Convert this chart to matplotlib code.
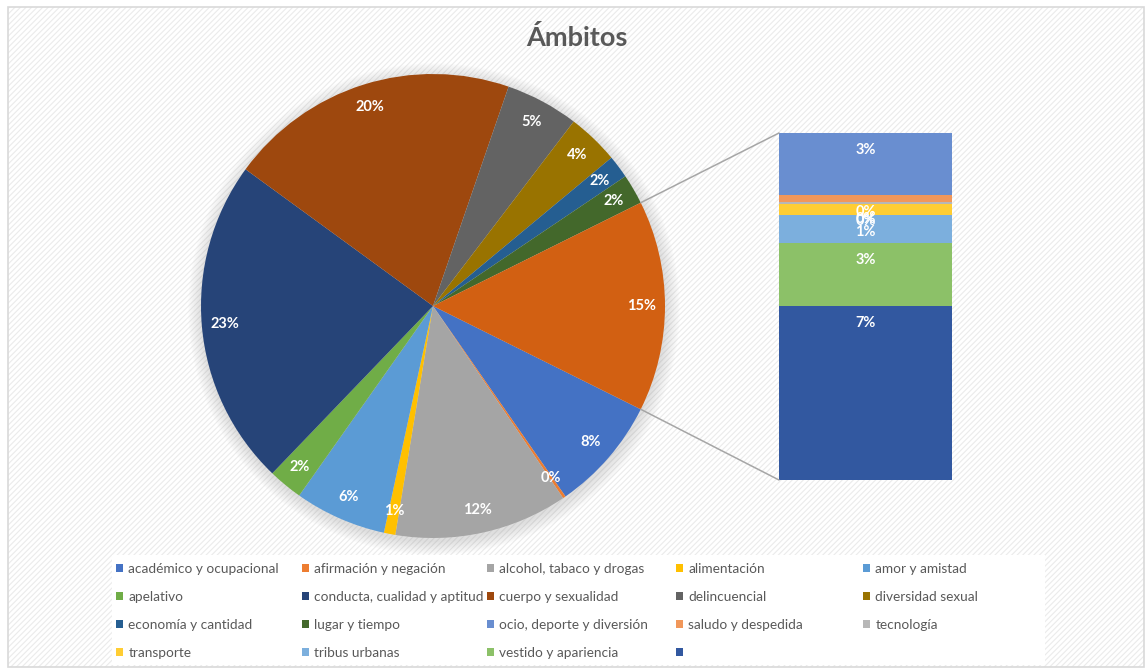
import math
import matplotlib
matplotlib.use("Agg")
import matplotlib.pyplot as plt
from matplotlib.patches import Rectangle, Patch, Circle, ConnectionPatch

plt.rcParams["font.family"] = ["Lato", "DejaVu Sans"]
plt.rcParams["hatch.linewidth"] = 0.8

# ---- data -------------------------------------------------------------
pie_categories = [
    "académico y ocupacional", "afirmación y negación", "alcohol, tabaco y drogas",
    "alimentación", "amor y amistad", "apelativo", "conducta, cualidad y aptitud",
    "cuerpo y sexualidad", "delincuencial", "diversidad sexual",
    "economía y cantidad", "lugar y tiempo",
]
pie_values = [8.0, 0.2, 12.1, 0.8, 6.4, 2.4, 22.9, 20.3, 5.1, 3.6, 1.6, 2.1]

bar_categories = [
    "ocio, deporte y diversión", "saludo y despedida", "tecnología",
    "transporte", "tribus urbanas", "vestido y apariencia", "",
]
bar_values = [2.63, 0.29, 0.09, 0.47, 1.19, 2.68, 7.37]

pie_colors = ["#4472C4", "#ED7D31", "#A5A5A5", "#FFC000", "#5B9BD5", "#70AD47",
              "#264478", "#9E480E", "#636363", "#997300", "#255E91", "#43682B"]
bar_colors = ["#698ED0", "#F1975A", "#B7B7B7", "#FFCD33", "#7CAFDD", "#8CC168", "#3258A0"]
other_color = "#D26012"

title = "Ámbitos"

# ---- figure -----------------------------------------------------------
W, H = 1145, 670
fig = plt.figure(figsize=(W / 100, H / 100), dpi=100)
fig.patch.set_facecolor("white")
ax = fig.add_axes([0, 0, 1, 1])

# chart area: hatched background and thin border
ax.add_patch(Rectangle((8, 3), 1136, 660, facecolor="white", edgecolor="#EBEBEB",
                       hatch="//////", linewidth=0, zorder=0))
ax.add_patch(Rectangle((8, 3), 1136, 660, fill=False, edgecolor="#D9D9D9",
                       linewidth=1.2, zorder=5))

# legend panel
ax.add_patch(Rectangle((112, 5), 933, 110, facecolor="white", edgecolor="none", zorder=1))

other_total = sum(bar_values)
all_values = pie_values + [other_total]
total = sum(all_values)
center = (433, 364)
radius = 232

# soft shadow under the pie
for i in range(10):
    ax.add_patch(Circle((center[0] + 1, center[1] - 3), radius + 1 + i * 1.4,
                        facecolor="#9A9A9A", edgecolor="none", alpha=0.03, zorder=1))

wedges, _, autotexts = ax.pie(
    all_values, colors=pie_colors + [other_color],
    startangle=-other_total / total * 180, counterclock=False,
    center=center, radius=radius, frame=True,
    autopct=lambda p: f"{p:.0f}%", pctdistance=0.9,
    wedgeprops=dict(linewidth=0, zorder=2),
    textprops=dict(color="white", fontsize=10.5, fontweight="bold"),
)
for t in autotexts:
    t.set_zorder(6)

ax.set_xlim(0, W)
ax.set_ylim(0, H)
ax.set_aspect("equal")
ax.set_axis_off()

# ---- bar of the "other" slice ----------------------------------------
ax_bar = fig.add_axes([779 / W, (H - 480) / H, 173 / W, 347 / H])
ax_bar.set_axis_off()
bottom = 0.0
bar_tops = []
for v, c in zip(bar_values[::-1], bar_colors[::-1]):
    ax_bar.bar(0, v, bottom=bottom, width=1.0, color=c, linewidth=0)
    bottom += v
    bar_tops.append(bottom)
ax_bar.set_xlim(-0.5, 0.5)
ax_bar.set_ylim(0, other_total)
for v, top in zip(bar_values[::-1], bar_tops):
    ax_bar.annotate(f"{v / total * 100:.0f}%", (0, top), xytext=(0, -12.2),
                    textcoords="offset points", ha="center", va="center",
                    color="white", fontsize=10.5, fontweight="bold")

# connector lines from the "other" wedge to the bar
ow = wedges[-1]
for ang, yb in ((ow.theta2, 1), (ow.theta1, 0)):
    px = center[0] + radius * math.cos(math.radians(ang))
    py = center[1] + radius * math.sin(math.radians(ang))
    con = ConnectionPatch(xyA=(px, py), coordsA=ax.transData,
                          xyB=(0, yb), coordsB=ax_bar.transAxes,
                          color="#A6A6A6", linewidth=1.1)
    fig.add_artist(con)

# ---- title ------------------------------------------------------------
fig.text(577 / W, 1 - 38 / H, title, ha="center", va="center",
         fontsize=19.5, fontweight="bold", color="#595959")

# ---- legend (row-wise, five equal columns) ---------------------------
labels = pie_categories + bar_categories
colors = pie_colors + bar_colors
ncols = 5
col_x = [116, 302, 487, 676, 863]
for c in range(ncols):
    idx = list(range(c, len(labels), ncols))
    handles = [Patch(facecolor=colors[i], edgecolor="none") for i in idx]
    fig.legend(handles, [labels[i] for i in idx], loc="upper left",
               bbox_to_anchor=(col_x[c] / W, 1 - 563 / H), frameon=False,
               fontsize=9.8, handlelength=0.55, handleheight=0.55,
               handletextpad=0.35, labelspacing=1.18, borderpad=0,
               borderaxespad=0, labelcolor="#595959")

fig.savefig("out.png", dpi=100, facecolor="white")
